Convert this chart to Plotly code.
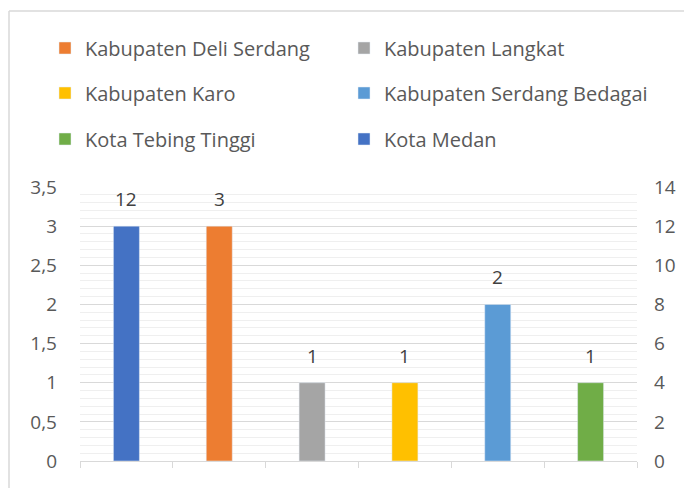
import plotly.graph_objects as go

names = ["Kota Medan", "Kabupaten Deli Serdang", "Kabupaten Langkat",
         "Kabupaten Karo", "Kabupaten Serdang Bedagai", "Kota Tebing Tinggi"]
values = [12, 3, 1, 1, 2, 1]
secondary = [True, False, False, False, False, False]
colors = ["#4472C4", "#ED7D31", "#A5A5A5", "#FFC000", "#5B9BD5", "#70AD47"]
# legend slot (row, column) of each series, as laid out in the reference
legend_row = [2, 0, 0, 1, 1, 2]
legend_col = [1, 0, 1, 0, 1, 0]

# the page body adds an 8px offset; the figure fills the rest of the window
OFF = 8
W, H = 692 - OFF, 488 - OFF
L, R, T, B = 80 - OFF, 55, 187 - OFF, 27
FONT = "Open Sans"
GRAY = "#595959"
ROW_Y = [48 - OFF, 93 - OFF, 139 - OFF]
COL_X = [45 - OFF, 344 - OFF]

fig = go.Figure()
legends = {}
for i, (n, v, sec, c) in enumerate(zip(names, values, secondary, colors)):
    lg = "legend" if i == 0 else f"legend{i + 1}"
    fig.add_trace(go.Bar(
        x=[i], y=[v], name=n, marker_color=c, width=0.28,
        yaxis="y2" if sec else "y", legend=lg,
    ))
    fig.add_annotation(
        x=i, y=v, yref="y2" if sec else "y", text=str(v), showarrow=False,
        yanchor="bottom", yshift=12, font=dict(family=FONT, size=19, color="#404040"),
    )
    legends[lg] = dict(
        orientation="h", xref="container", yref="container",
        xanchor="left", yanchor="middle",
        x=COL_X[legend_col[i]] / W, y=1 - ROW_Y[legend_row[i]] / H,
        font=dict(family=FONT, size=20, color=GRAY), bgcolor="rgba(0,0,0,0)",
        borderwidth=0, itemclick=False, itemdoubleclick=False,
    )

fig.update_layout(
    width=W, height=H,
    margin=dict(l=L, r=R, t=T, b=B, pad=0, autoexpand=False),
    paper_bgcolor="white", plot_bgcolor="white",
    separators=", ",
    barmode="overlay",
    showlegend=True,
    xaxis=dict(range=[-0.5, 5.5], tickvals=[-0.5, 0.5, 1.5, 2.5, 3.5, 4.5, 5.5],
               showticklabels=False, ticks="outside", ticklen=6, tickcolor="#D9D9D9",
               showline=True, linecolor="#D9D9D9", linewidth=1, showgrid=False,
               zeroline=False, fixedrange=True, automargin=False),
    yaxis=dict(range=[0, 3.5], dtick=0.5, tick0=0, showgrid=True, gridcolor="#D9D9D9",
               gridwidth=1, zeroline=False, showline=False, ticks="",
               ticklabelstandoff=22, automargin=False,
               tickfont=dict(family=FONT, size=19, color=GRAY),
               minor=dict(dtick=0.1, showgrid=True, gridcolor="#EFEFEF", gridwidth=1)),
    yaxis2=dict(range=[0, 14], dtick=2, tick0=0, overlaying="y", side="right",
                showgrid=False, zeroline=False, showline=False, ticks="",
                ticklabelstandoff=16, automargin=False,
                tickfont=dict(family=FONT, size=19, color=GRAY)),
    **legends,
)

# chart-area border (left and top edges visible in the crop)
PW, PH = W - L - R, H - T - B
bx = (1 - L) / PW
by = 1 + (T - 3) / PH
fig.add_shape(type="line", xref="paper", yref="paper",
              x0=bx, x1=bx, y0=-B / PH - 0.1, y1=by,
              line=dict(color="#D9D9D9", width=1.5), layer="below")
fig.add_shape(type="line", xref="paper", yref="paper",
              x0=bx, x1=1 + R / PW + 0.1, y0=by, y1=by,
              line=dict(color="#D9D9D9", width=1.5), layer="below")

fig.write_html("out.html")
